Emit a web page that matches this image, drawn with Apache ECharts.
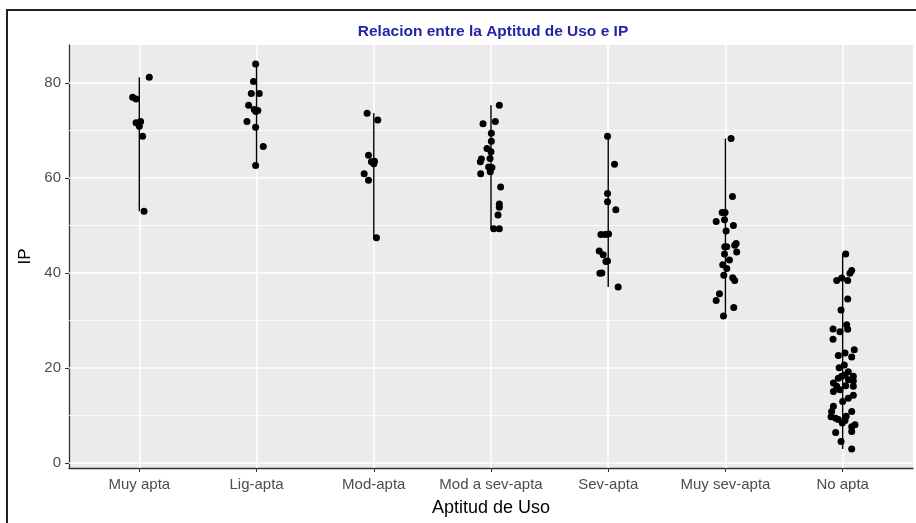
<!DOCTYPE html>
<html>
<head>
<meta charset="utf-8">
<script src="https://cdn.jsdelivr.net/npm/echarts@6/dist/echarts.min.js"></script>
<style>
html,body{margin:0;padding:0;background:#fff;}
#chart{width:916px;height:523px;}
</style>
</head>
<body>
<div id="chart"></div>
<script>
// Categories (x positions 1..7)
const categories = ["Muy apta", "Lig-apta", "Mod-apta", "Mod a sev-apta", "Sev-apta", "Muy sev-apta", "No apta"];
const yTicks = [0, 20, 40, 60, 80];
const yMinorTicks = [10, 30, 50, 70];

// IP values per category and their horizontal jitter (in category units)
const ipMuyApta = [81.2, 77.0, 76.6, 71.6, 71.9, 70.9, 68.8, 53.0];
const jitMuyApta = [0.085, -0.057, -0.028, -0.028, 0.011, 0.0, 0.028, 0.04];

const ipLigApta = [84.0, 80.3, 77.8, 77.8, 75.3, 74.4, 74.2, 74.0, 71.9, 70.7, 66.6, 62.6];
const jitLigApta = [-0.008, -0.026, -0.045, 0.023, -0.068, -0.02, 0.011, -0.006, -0.082, -0.008, 0.057, -0.008];

const ipModApta = [73.6, 72.2, 64.8, 63.4, 63.5, 63.0, 60.9, 59.5, 47.4];
const jitModApta = [-0.057, 0.034, -0.045, -0.02, 0.006, 0.0, -0.082, -0.045, 0.023];

const ipModSevApta = [75.3, 71.9, 71.4, 69.4, 67.7, 66.2, 65.5, 64.0, 63.4, 64.1, 62.3, 62.2, 61.3, 60.9, 58.1, 54.5, 53.8, 52.2, 49.3, 49.3];
const jitModSevApta = [0.071, 0.037, -0.068, 0.003, 0.003, -0.034, 0.0, -0.082, -0.091, -0.008, -0.02, 0.008, -0.006, -0.088, 0.082, 0.071, 0.071, 0.06, 0.023, 0.071];

const ipSevApta = [68.8, 62.9, 56.7, 55.0, 53.3, 48.1, 48.1, 48.2, 44.6, 43.8, 42.4, 42.5, 39.9, 40.0, 37.0];
const jitSevApta = [-0.006, 0.054, -0.006, -0.006, 0.065, -0.062, -0.026, 0.003, -0.077, -0.043, -0.02, -0.006, -0.071, -0.054, 0.085];

const ipMuySevApta = [68.3, 56.1, 52.7, 52.7, 51.2, 50.8, 50.0, 48.8, 46.2, 45.8, 45.5, 45.5, 44.4, 44.0, 42.7, 41.7, 40.9, 39.5, 39.0, 38.4, 35.6, 34.2, 32.7, 30.9];
const jitMuySevApta = [0.048, 0.06, -0.028, -0.003, -0.008, -0.079, 0.068, 0.006, 0.091, 0.079, -0.006, 0.011, 0.096, -0.008, 0.034, -0.023, 0.011, -0.014, 0.062, 0.079, -0.051, -0.079, 0.071, -0.017];

const ipNoApta = [44.0, 40.5, 39.9, 38.4, 38.9, 38.4, 34.5, 32.2, 28.2, 27.6, 29.1, 28.1, 26.0, 23.8, 22.6, 23.1, 22.3, 20.6, 20.0, 19.2, 18.2, 17.8, 18.5, 18.2, 17.2, 17.5, 16.8, 16.1, 16.2, 16.1, 15.0, 15.4, 14.2, 13.6, 12.9, 11.9, 10.8, 10.8, 9.8, 9.7, 9.4, 9.1, 8.9, 8.4, 8.0, 7.6, 6.4, 6.6, 4.5, 2.9];
const jitNoApta = [0.026, 0.077, 0.062, -0.051, -0.008, 0.043, 0.043, -0.014, -0.082, -0.023, 0.034, 0.043, -0.082, 0.099, -0.037, 0.02, 0.077, 0.014, -0.03, 0.048, -0.008, -0.037, 0.02, 0.091, 0.091, 0.05, -0.079, -0.051, 0.026, 0.091, -0.079, -0.023, 0.091, 0.048, 0.0, -0.079, 0.077, -0.094, 0.03, -0.099, -0.06, -0.037, 0.02, -0.003, 0.105, 0.077, -0.06, 0.077, -0.014, 0.077];

const ipByCat = [ipMuyApta, ipLigApta, ipModApta, ipModSevApta, ipSevApta, ipMuySevApta, ipNoApta];
const jitByCat = [jitMuyApta, jitLigApta, jitModApta, jitModSevApta, jitSevApta, jitMuySevApta, jitNoApta];

const points = [];
const ranges = [];
ipByCat.forEach((vals, i) => {
  const jit = jitByCat[i];
  vals.forEach((v, k) => points.push([i + 1 + jit[k], v]));
  ranges.push([i + 1, Math.min(...vals), Math.max(...vals)]);
});

const FONT = '"Liberation Sans", Arial, sans-serif';
const chart = echarts.init(document.getElementById('chart'), null, {renderer: 'canvas'});

const gridLinesH = yTicks.map(v => ({yAxis: v, lineStyle: {width: 1.6}}))
  .concat(yMinorTicks.map(v => ({yAxis: v, lineStyle: {width: 0.8}})));
const gridLinesV = categories.map((c, i) => ({xAxis: i + 1, lineStyle: {width: 1.6}}));

chart.setOption({
  animation: false,
  backgroundColor: '#ffffff',
  title: {
    text: 'Relacion entre la Aptitud de Uso e IP',
    left: 488,
    top: 19,
    textAlign: 'center',
    textStyle: {color: '#2424a8', fontSize: 15.5, fontWeight: 'bold', fontFamily: FONT}
  },
  graphic: [{
    type: 'rect',
    shape: {x: 7, y: 10, width: 930, height: 540},
    style: {fill: null, stroke: '#222', lineWidth: 2},
    silent: true
  }],
  grid: {
    left: 69, right: 3, top: 45, bottom: 55,
    show: true, backgroundColor: '#ebebeb', borderWidth: 0
  },
  xAxis: {
    type: 'value',
    min: 0.4, max: 7.6,
    name: 'Aptitud de Uso',
    nameLocation: 'middle',
    nameGap: 31,
    nameTextStyle: {color: '#000', fontSize: 18, fontFamily: FONT},
    axisLine: {show: true, onZero: false, lineStyle: {color: '#333', width: 1.3}},
    axisTick: {show: true, length: 4, customValues: [1, 2, 3, 4, 5, 6, 7], lineStyle: {color: '#333'}},
    axisLabel: {
      customValues: [1, 2, 3, 4, 5, 6, 7],
      formatter: v => categories[Math.round(v) - 1],
      color: '#4d4d4d', fontSize: 15, fontFamily: FONT, margin: 9
    },
    splitLine: {show: false}
  },
  yAxis: {
    type: 'value',
    min: -1.1, max: 88,
    name: 'IP',
    nameLocation: 'middle',
    nameGap: 34,
    nameRotate: 90,
    nameTextStyle: {color: '#000', fontSize: 17, fontFamily: FONT},
    axisLine: {show: true, onZero: false, lineStyle: {color: '#333', width: 1.3}},
    axisTick: {show: true, length: 4, customValues: yTicks, lineStyle: {color: '#333'}},
    axisLabel: {customValues: yTicks, color: '#4d4d4d', fontSize: 15, fontFamily: FONT, margin: 8},
    splitLine: {show: false}
  },
  series: [
    {
      type: 'scatter',
      data: [],
      z: 1,
      silent: true,
      markLine: {
        z: 1,
        silent: true,
        symbol: ['none', 'none'],
        label: {show: false},
        lineStyle: {color: '#ffffff', type: 'solid'},
        data: gridLinesH.concat(gridLinesV)
      }
    },
    {
      type: 'custom',
      z: 3,
      data: ranges,
      renderItem: (params, api) => {
        const p1 = api.coord([api.value(0), api.value(1)]);
        const p2 = api.coord([api.value(0), api.value(2)]);
        return {
          type: 'line',
          shape: {x1: p1[0], y1: p1[1], x2: p2[0], y2: p2[1]},
          style: {stroke: '#000', lineWidth: 1.4}
        };
      }
    },
    {
      type: 'scatter',
      z: 4,
      data: points,
      symbolSize: 7,
      itemStyle: {color: '#000', opacity: 1}
    }
  ]
});
</script>
</body>
</html>
